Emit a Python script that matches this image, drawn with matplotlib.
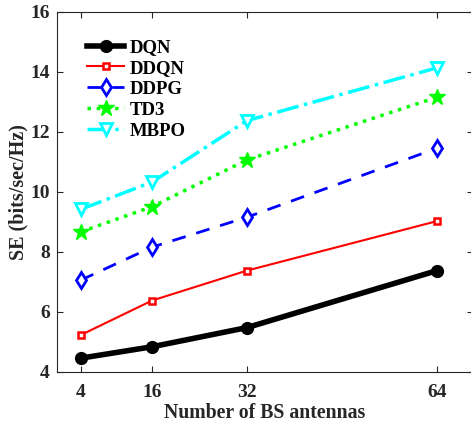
import numpy as np
import matplotlib
matplotlib.use("Agg")
import matplotlib.pyplot as plt

# Spectral efficiency vs number of BS antennas for each agent
antennas = [4, 16, 32, 64]
se_dqn = [4.45, 4.83, 5.47, 7.37]
se_ddqn = [5.22, 6.37, 7.37, 9.02]
se_ddpg = [7.05, 8.15, 9.15, 11.45]
se_td3 = [8.66, 9.50, 11.06, 13.15]
se_mbpo = [9.41, 10.32, 12.37, 14.13]

plt.rcParams["font.family"] = ["Liberation Serif", "DejaVu Serif"]
plt.rcParams["font.weight"] = "bold"

fig = plt.figure(figsize=(4.71, 4.30), dpi=100)
ax = fig.add_axes([0.1208, 0.1356, 0.8828, 0.8372])

ax.plot(antennas, se_dqn, color="black", linestyle="-", linewidth=4,
        marker="o", markersize=8.5, markerfacecolor="black", label="DQN")
ax.plot(antennas, se_ddqn, color="red", linestyle="-", linewidth=1.5,
        marker="s", markersize=5, markerfacecolor="white",
        markeredgewidth=1.8, label="DDQN")
ax.plot(antennas, se_ddpg, color="blue", linestyle=(0, (5, 4)), linewidth=2,
        marker="d", markersize=8.5, markerfacecolor="white",
        markeredgewidth=2, label="DDPG")
ax.plot(antennas, se_td3, color="#00ff00", linestyle=":", linewidth=2.5,
        marker="*", markersize=12, markerfacecolor="#00ff00", label="TD3")
ax.plot(antennas, se_mbpo, color="cyan", linestyle="-.", linewidth=2.5,
        marker="v", markersize=8.5, markerfacecolor="white",
        markeredgewidth=2, label="MBPO")

ax.set_xlim(0, 70)
ax.set_ylim(4, 16)
ax.set_xticks(antennas)
ax.set_yticks(np.arange(4, 17, 2))
ax.tick_params(direction="in", top=True, right=True, length=4,
               labelsize=14, colors="#262626")
ax.tick_params(axis="x", pad=9)
ax.tick_params(axis="y", pad=5)
for lab in ax.get_xticklabels() + ax.get_yticklabels():
    lab.set_fontweight("bold")
for sp in ax.spines.values():
    sp.set_color("#262626")
    sp.set_linewidth(0.8)

ax.set_xlabel("Number of BS antennas", fontsize=14.2, fontweight="bold",
              color="#262626", labelpad=1)
ax.set_ylabel("SE (bits/sec/Hz)", fontsize=14.5, fontweight="bold",
              color="#262626", labelpad=1.5)

leg = ax.legend(loc="upper left", frameon=False, fontsize=13.5,
                handlelength=1.95, handletextpad=0.3, labelspacing=0.2,
                bbox_to_anchor=(0.055, 0.945), borderaxespad=0)
for t in leg.get_texts():
    t.set_fontweight("bold")

fig.savefig("out.png", dpi=100)
